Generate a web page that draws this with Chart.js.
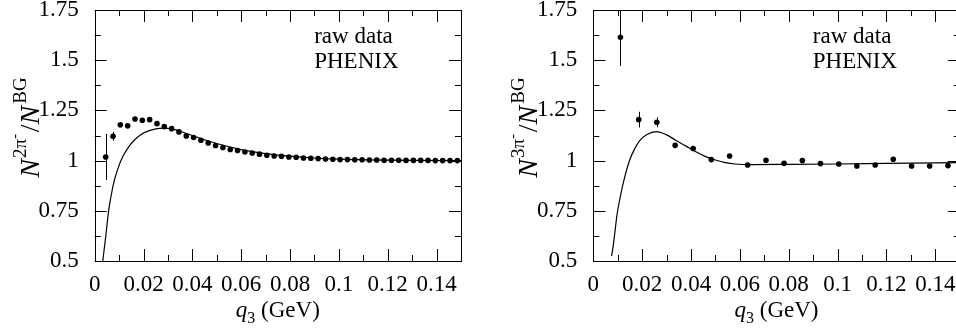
<!DOCTYPE html>
<html>
<head>
<meta charset="utf-8">
<script src="https://cdn.jsdelivr.net/npm/chart.js@4.4.1/dist/chart.umd.min.js"></script>
<style>
  html, body { margin: 0; padding: 0; background: #fff; }
  body { width: 956px; height: 329px; overflow: hidden; position: relative; }
  canvas { position: absolute; top: 0; }
  #left { left: 0; }
  #right { left: 478px; }
</style>
</head>
<body>
<canvas id="left" width="478" height="329"></canvas>
<canvas id="right" width="500" height="329"></canvas>
<script>
/* --- data --- */

// axis ticks (shared by both panels)
const xTickValues = [0, 0.02, 0.04, 0.06, 0.08, 0.1, 0.12, 0.14]
const xTickLabels = ['0', '0.02', '0.04', '0.06', '0.08', '0.1', '0.12', '0.14']
const xMinorTicks = [0.01, 0.03, 0.05, 0.07, 0.09, 0.11, 0.13]
const yTickValues = [0.5, 0.75, 1, 1.25, 1.5, 1.75]
const yTickLabels = ['0.5', '0.75', '1', '1.25', '1.5', '1.75']
const yMinorTicks = [0.625, 0.875, 1.125, 1.375, 1.625]

// left panel: 2 pi- / background, raw data
const q3Left = [
  0.0045, 0.0075, 0.0105, 0.0135, 0.0165, 0.0195, 0.0225, 0.0255, 0.0285, 0.0315,
  0.0345, 0.0375, 0.0405, 0.0435, 0.0465, 0.0495, 0.0525, 0.0555, 0.0585, 0.0615,
  0.0645, 0.0675, 0.0705, 0.0735, 0.0765, 0.0795, 0.0825, 0.0855, 0.0885, 0.0915,
  0.0945, 0.0975, 0.1005, 0.1035, 0.1065, 0.1095, 0.1125, 0.1155, 0.1185, 0.1215,
  0.1245, 0.1275, 0.1305, 0.1335, 0.1365, 0.1395, 0.1425, 0.1455, 0.1485
]
const ratioLeft = [
  1.018, 1.121, 1.178, 1.173, 1.207, 1.201, 1.204, 1.184, 1.169, 1.159,
  1.143, 1.123, 1.115, 1.101, 1.088, 1.075, 1.065, 1.055, 1.050, 1.043,
  1.038, 1.032, 1.027, 1.023, 1.022, 1.018, 1.017, 1.013, 1.012, 1.010,
  1.008, 1.007, 1.005, 1.005, 1.004, 1.004, 1.003, 1.003, 1.002, 1.002,
  1.002, 1.001, 1.001, 1.001, 1.001, 1.000, 1.000, 1.000, 1.000
]
const errLeft = [
  0.115, 0.022, 0.008, 0.006, 0.005, 0.004, 0.004, 0.003, 0.003, 0.003,
  0.002, 0.002, 0.002, 0.002, 0.002, 0.002, 0.002, 0.002, 0.002, 0.002,
  0.001, 0.001, 0.001, 0.001, 0.001, 0.001, 0.001, 0.001, 0.001, 0.001,
  0.001, 0.001, 0.001, 0.001, 0.001, 0.001, 0.001, 0.001, 0.001, 0.001,
  0.001, 0.001, 0.001, 0.001, 0.001, 0.001, 0.001, 0.001, 0.001
]
// left panel model curve
const curveLeftX = [
  0.0033, 0.0045, 0.0056, 0.0068, 0.008, 0.0095, 0.0115, 0.014, 0.0165, 0.019,
  0.022, 0.025, 0.028, 0.031, 0.034, 0.04, 0.05, 0.06, 0.07, 0.08,
  0.09, 0.1, 0.11, 0.12, 0.13, 0.15
]
const curveLeftY = [
  0.5, 0.62, 0.74, 0.83, 0.9, 0.96, 1.02, 1.07, 1.105, 1.13,
  1.148, 1.158, 1.162, 1.16, 1.15, 1.125, 1.085, 1.055, 1.035, 1.022,
  1.013, 1.007, 1.004, 1.002, 1.001, 1.0
]

// right panel: 3 pi- / background, raw data
const q3Right = [
  0.0111, 0.0186, 0.026, 0.0335, 0.0409, 0.0483, 0.0558, 0.0632, 0.0707, 0.0781,
  0.0856, 0.093, 0.1005, 0.1079, 0.1154, 0.1228, 0.1303, 0.1377, 0.1452
]
const ratioRight = [
  1.614, 1.204, 1.191, 1.076, 1.060, 1.005, 1.023, 0.978, 1.002, 0.987,
  1.000, 0.985, 0.983, 0.973, 0.978, 1.007, 0.973, 0.973, 0.975
]
const errRight = [
  0.143, 0.039, 0.025, 0.008, 0.007, 0.006, 0.006, 0.005, 0.005, 0.005,
  0.004, 0.004, 0.004, 0.004, 0.004, 0.004, 0.004, 0.004, 0.004
]
const curveRightX = [
  0.0075, 0.0082, 0.009, 0.0097, 0.0108, 0.0125, 0.0149, 0.017, 0.019, 0.022,
  0.0258, 0.03, 0.0339, 0.038, 0.042, 0.046, 0.05, 0.054, 0.058, 0.065,
  0.08, 0.1, 0.12, 0.15
]
const curveRightY = [
  0.525, 0.58, 0.66, 0.73, 0.804, 0.9, 1.003, 1.06, 1.1, 1.13,
  1.144, 1.128, 1.1, 1.072, 1.044, 1.02, 1.003, 0.99, 0.983, 0.98,
  0.981, 0.983, 0.986, 0.99
]

/* --- drawing helpers --- */

const SERIF = '"Liberation Serif", "DejaVu Serif", serif'

function pts(xs, ys) {
  return xs.map((x, i) => ({ x: x, y: ys[i] }))
}

// frame, inward ticks, error bars and texts
const decorPlugin = {
  id: 'decor',
  afterDatasetsDraw(chart) {
    const ctx = chart.ctx
    const a = chart.chartArea
    const xs = chart.scales.x
    const ys = chart.scales.y
    const o = chart.options.plugins.decor

    // error bars
    ctx.save()
    ctx.beginPath()
    ctx.rect(a.left, a.top, a.right - a.left, a.bottom - a.top)
    ctx.clip()
    ctx.strokeStyle = '#000'
    ctx.lineWidth = 1
    o.xs.forEach((x, i) => {
      const px = Math.round(xs.getPixelForValue(x)) + 0.5
      const y1 = ys.getPixelForValue(o.ys[i] - o.err[i])
      const y2 = ys.getPixelForValue(o.ys[i] + o.err[i])
      ctx.beginPath()
      ctx.moveTo(px, y1)
      ctx.lineTo(px, y2)
      ctx.stroke()
    })
    ctx.restore()

    // frame
    ctx.save()
    ctx.strokeStyle = '#000'
    ctx.lineWidth = 1
    ctx.strokeRect(Math.round(a.left) + 0.5, Math.round(a.top) + 0.5,
      Math.round(a.right - a.left), Math.round(a.bottom - a.top))

    // ticks pointing into the plot
    const tick = (vals, len, isX) => {
      vals.forEach(v => {
        ctx.beginPath()
        if (isX) {
          const p = Math.round(xs.getPixelForValue(v)) + 0.5
          ctx.moveTo(p, a.bottom); ctx.lineTo(p, a.bottom - len)
          ctx.moveTo(p, a.top); ctx.lineTo(p, a.top + len)
        } else {
          const p = Math.round(ys.getPixelForValue(v)) + 0.5
          ctx.moveTo(a.left, p); ctx.lineTo(a.left + len, p)
          ctx.moveTo(a.right, p); ctx.lineTo(a.right - len, p)
        }
        ctx.stroke()
      })
    }
    tick(xTickValues, 12, true)
    tick(xMinorTicks, 6, true)
    tick(yTickValues, 12, false)
    tick(yMinorTicks, 6, false)

    // legend text
    ctx.fillStyle = '#000'
    ctx.font = '23px ' + SERIF
    ctx.textAlign = 'left'
    ctx.textBaseline = 'alphabetic'
    ctx.fillText('raw data', a.left + 219.5, 43)
    ctx.fillText('PHENIX', a.left + 219.5, 68)

    // x title: q_3 (GeV)
    const parts = [
      { t: 'q', f: 'italic 23px ' + SERIF, dy: 0 },
      { t: '3', f: '16px ' + SERIF, dy: 6 },
      { t: ' (GeV)', f: '23px ' + SERIF, dy: 0 }
    ]
    drawParts(ctx, parts, (a.left + a.right) / 2, 317)

    // y title: N^{k pi-}/N^{BG}, rotated
    ctx.translate(a.left - 56, 127.5)
    ctx.rotate(-Math.PI / 2)
    const yparts = [
      { t: 'N', f: 'italic 28px ' + SERIF, dy: 0, gap: 1 },
      { t: o.sup, f: '19px ' + SERIF, dy: -13, gap: 0 },
      { t: '-', f: '14px ' + SERIF, dy: -20, gap: 2 },
      { t: '/', f: '28px ' + SERIF, dy: 0, gap: 0 },
      { t: 'N', f: 'italic 28px ' + SERIF, dy: 0, gap: 2 },
      { t: 'BG', f: '19px ' + SERIF, dy: -13, gap: 0 }
    ]
    drawParts(ctx, yparts, 0, 0)
    ctx.restore()
  }
}

function drawParts(ctx, parts, cx, baseY) {
  let total = 0
  parts.forEach(p => {
    ctx.font = p.f
    p.w = ctx.measureText(p.t).width + (p.gap || 0)
    total += p.w
  })
  let x = cx - total / 2
  ctx.textAlign = 'left'
  ctx.textBaseline = 'alphabetic'
  parts.forEach(p => {
    ctx.font = p.f
    ctx.fillText(p.t, x, baseY + p.dy)
    x += p.w
  })
}

function makePanel(id, o) {
  const data = {
    datasets: [{
      label: 'raw data',
      data: pts(o.xs, o.ys),
      showLine: false,
      pointRadius: 2.8,
      pointBackgroundColor: '#000',
      pointBorderWidth: 0,
      borderColor: '#000'
    }, {
      label: 'model',
      data: pts(o.cx, o.cy),
      showLine: true,
      pointRadius: 0,
      borderColor: '#000',
      borderWidth: 1.2,
      cubicInterpolationMode: 'monotone',
      fill: false
    }]
  }

  const tickFont = { family: SERIF, size: 23 }

  const config = {
    type: 'scatter',
    data: data,
    options: {
      responsive: false,
      animation: false,
      devicePixelRatio: 1,
      layout: { padding: { left: 0, top: 10, right: o.padRight, bottom: 0 } },
      plugins: {
        legend: { display: false },
        tooltip: { enabled: false },
        decor: { xs: o.xs, ys: o.ys, err: o.err, sup: o.sup }
      },
      scales: {
        x: {
          type: 'linear', min: 0, max: 0.15,
          grid: { display: false, drawTicks: false },
          border: { display: false },
          afterBuildTicks: s => { s.ticks = xTickValues.map(v => ({ value: v })) },
          afterFit: s => { s.height = 68; s.paddingLeft = 0; s.paddingRight = 0 },
          ticks: {
            autoSkip: false, maxRotation: 0, padding: 10, color: '#000', font: tickFont,
            callback: (v, i) => xTickLabels[i]
          }
        },
        y: {
          type: 'linear', min: 0.5, max: 1.75,
          grid: { display: false, drawTicks: false },
          border: { display: false },
          afterBuildTicks: s => { s.ticks = yTickValues.map(v => ({ value: v })) },
          afterFit: s => { s.width = o.yWidth; s.paddingTop = 0; s.paddingBottom = 0 },
          ticks: {
            autoSkip: false, padding: 16, color: '#000', font: tickFont,
            callback: (v, i) => yTickLabels[i]
          }
        }
      }
    },
    plugins: [decorPlugin]
  }
  return new Chart(document.getElementById(id).getContext('2d'), config)
}

const leftChart = makePanel('left', {
  xs: q3Left, ys: ratioLeft, err: errLeft, cx: curveLeftX, cy: curveLeftY,
  sup: '2\u03c0', yWidth: 94.7, padRight: 17
})

const rightChart = makePanel('right', {
  xs: q3Right, ys: ratioRight, err: errRight, cx: curveRightX, cy: curveRightY,
  sup: '3\u03c0', yWidth: 115.3, padRight: 18.3
})
</script>
</body>
</html>
